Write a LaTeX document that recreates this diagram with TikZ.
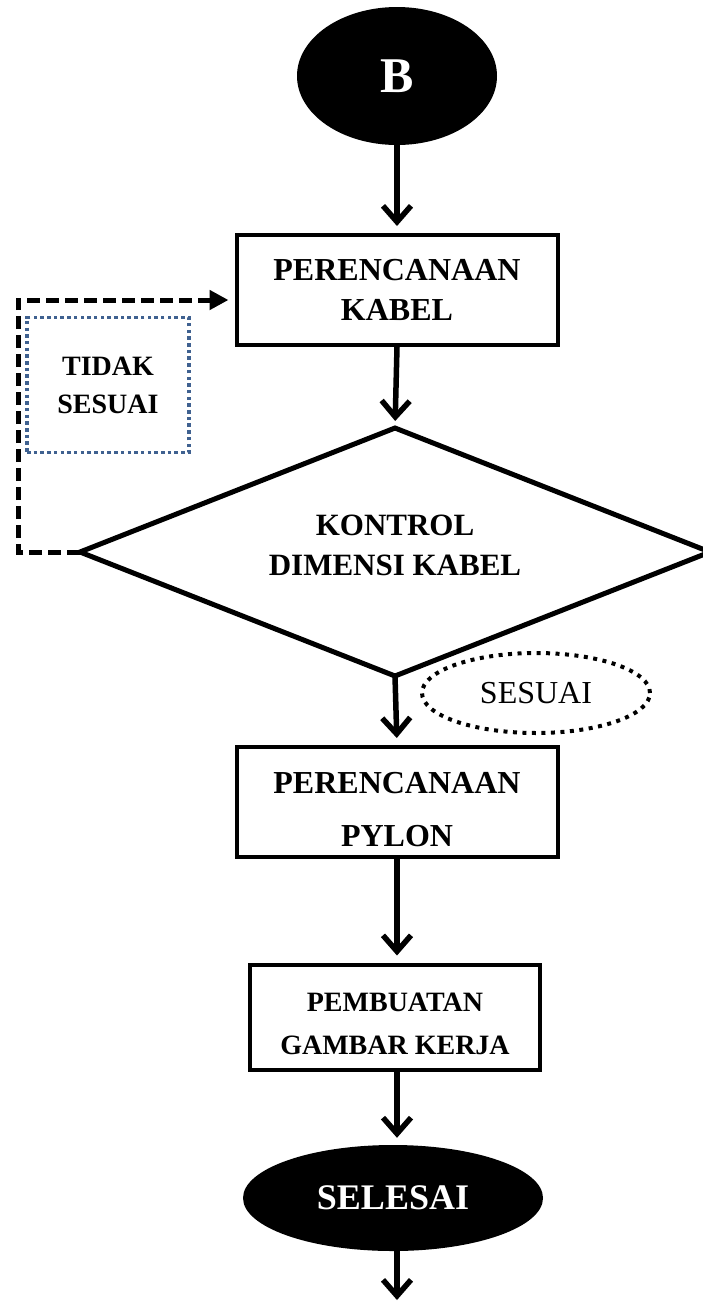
\documentclass[tikz,border=0pt]{standalone}
\usepackage{fontspec}
\setmainfont{Liberation Serif}
\usetikzlibrary{arrows.meta,shapes.geometric}
\definecolor{dotblue}{HTML}{3F6190}
\begin{document}
\begin{tikzpicture}[x=1pt,y=-1pt,
  box/.style={draw, line width=4pt, rectangle, inner sep=0pt, align=center, font=\bfseries\fontsize{32}{40}\selectfont},
  term/.style={ellipse, fill=black, text=white, inner sep=0pt},
  flow/.style={line width=5.5pt, -{Straight Barb[length=16pt,width=28pt]}, shorten >=7pt},
  back/.style={line width=5pt, dash pattern=on 13pt off 6pt, -{Triangle[length=19pt,width=19pt]}, shorten >=6pt},
  decision/.style={line width=5pt, line join=miter},
]
\useasboundingbox (0,0) rectangle (703,1307);
\node[term, minimum width=200pt, minimum height=138pt, font=\bfseries\fontsize{50}{60}\selectfont] (b) at (397,76) {B};
\node[box, minimum width=321pt, minimum height=110pt] (k1) at (397,290) {PERENCANAAN\\KABEL};
% decision diamond
\coordinate (dt) at (395,428);
\coordinate (dr) at (710,552);
\coordinate (db) at (395,676);
\coordinate (dl) at (80,552);
\draw[decision] (dt) -- (dr) -- (db) -- (dl) -- cycle;
\node[align=center, inner sep=0pt, font=\bfseries\fontsize{31}{40}\selectfont] (d) at (395,545) {KONTROL\\DIMENSI KABEL};
\node[box, minimum width=321pt, minimum height=110pt, font=\bfseries\fontsize{32}{53}\selectfont] (p) at (397,802) {\rule{0pt}{37pt}PERENCANAAN\\PYLON};
\node[box, minimum width=290pt, minimum height=105pt, font=\bfseries\fontsize{28}{43}\selectfont] (g) at (395,1017) {\rule{0pt}{33pt}PEMBUATAN\\GAMBAR KERJA};
\node[term, minimum width=300pt, minimum height=106pt, font=\bfseries\fontsize{36}{44}\selectfont] (sel) at (393,1198) {SELESAI};
\node[draw=dotblue, line width=3.5pt, dash pattern=on 3.5pt off 3.2pt, minimum width=162pt, minimum height=135pt, inner sep=0pt, align=center, font=\bfseries\fontsize{28}{38}\selectfont] (t) at (108,385) {TIDAK\\SESUAI};
\node[ellipse, draw, line width=4pt, dash pattern=on 4pt off 5.5pt, minimum width=228pt, minimum height=80pt, inner sep=0pt, font=\fontsize{32}{38}\selectfont] (s) at (536,693) {SESUAI};
\coordinate (fbtop) at (18,300);
\coordinate (fbbot) at (18,552);
\coordinate (end) at (397,1307);
\draw[flow] (b) -- (k1);
\draw[flow] (k1.south) -- (dt);
\draw[flow] (db) -- (p.north);
\draw[flow] (p.south) -- (g.north -| p.south);
\draw[flow] (g.south -| p.south) -- (sel.north -| p.south);
\draw[flow] (sel.south -| p.south) -- (end);
\draw[back] (dl) -- (fbbot) -- (fbtop) -- (fbtop -| k1.west);
\end{tikzpicture}
\end{document}
